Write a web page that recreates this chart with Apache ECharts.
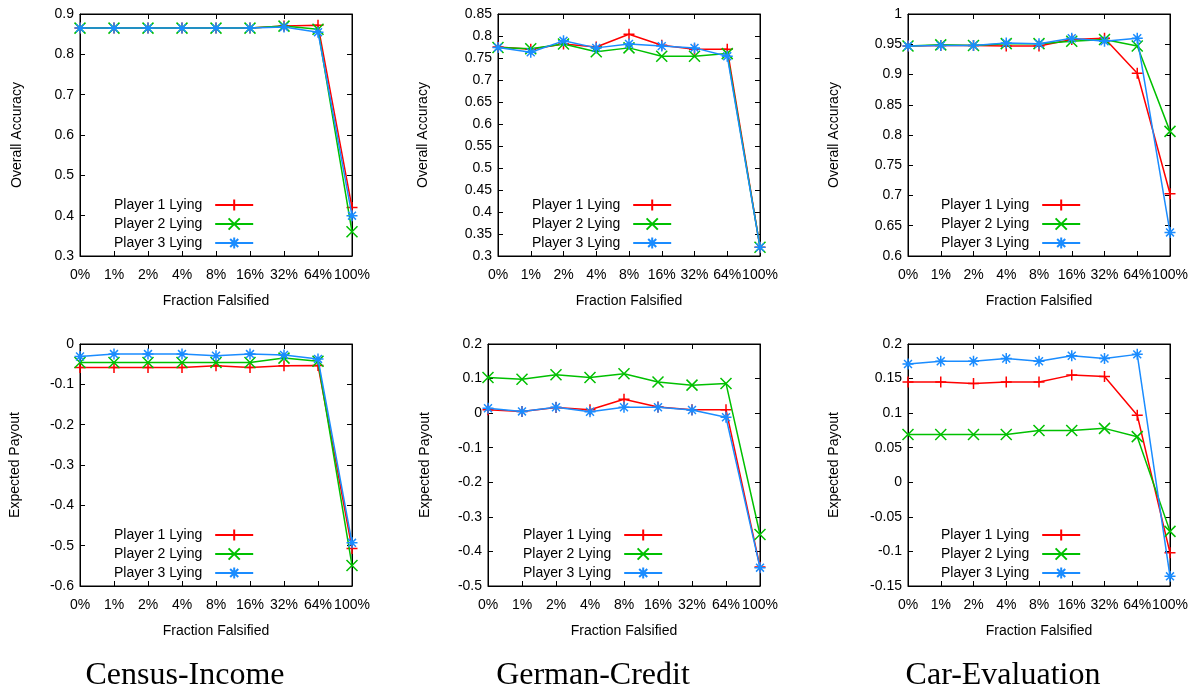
<!DOCTYPE html>
<html>
<head>
<meta charset="utf-8">
<script src="https://cdn.jsdelivr.net/npm/echarts@6/dist/echarts.min.js"></script>
<style>
html,body{margin:0;padding:0;background:#fff;}
#chart{width:1194px;height:692px;}
</style>
</head>
<body>
<div id="chart"></div>
<script>
// ---- data ----
const categories = ['0%','1%','2%','4%','8%','16%','32%','64%','100%'];
const seriesNames = ['Player 1 Lying','Player 2 Lying','Player 3 Lying'];
const datasetTitles = ['Census-Income','German-Credit','Car-Evaluation'];

const censusAccP1 = [0.865,0.865,0.865,0.865,0.865,0.865,0.870,0.872,0.42];
const censusAccP2 = [0.865,0.865,0.865,0.865,0.865,0.865,0.870,0.862,0.36];
const censusAccP3 = [0.865,0.865,0.865,0.865,0.865,0.865,0.868,0.855,0.40];

const germanAccP1 = [0.775,0.770,0.782,0.775,0.804,0.779,0.770,0.770,0.32];
const germanAccP2 = [0.774,0.771,0.782,0.764,0.773,0.754,0.754,0.760,0.32];
const germanAccP3 = [0.774,0.763,0.789,0.773,0.782,0.777,0.773,0.754,0.32];

const carAccP1 = [0.947,0.948,0.948,0.947,0.947,0.958,0.960,0.902,0.703];
const carAccP2 = [0.947,0.949,0.948,0.951,0.951,0.955,0.958,0.947,0.806];
const carAccP3 = [0.947,0.948,0.948,0.952,0.951,0.960,0.955,0.960,0.639];

const censusPayP1 = [-0.058,-0.058,-0.058,-0.058,-0.054,-0.058,-0.054,-0.053,-0.507];
const censusPayP2 = [-0.046,-0.046,-0.046,-0.046,-0.046,-0.046,-0.035,-0.043,-0.549];
const censusPayP3 = [-0.031,-0.025,-0.025,-0.025,-0.029,-0.025,-0.027,-0.037,-0.493];

const germanPayP1 = [0.010,0.005,0.016,0.010,0.040,0.018,0.010,0.010,-0.445];
const germanPayP2 = [0.103,0.098,0.111,0.103,0.114,0.090,0.081,0.086,-0.351];
const germanPayP3 = [0.014,0.005,0.017,0.004,0.017,0.017,0.009,-0.012,-0.447];

const carPayP1 = [0.145,0.145,0.143,0.145,0.145,0.155,0.153,0.097,-0.102];
const carPayP2 = [0.069,0.069,0.069,0.069,0.075,0.075,0.078,0.066,-0.071];
const carPayP3 = [0.171,0.175,0.175,0.179,0.175,0.183,0.179,0.185,-0.136];

const yRanges = [ // [min, max, interval]
  [0.3, 0.9, 0.1], [0.3, 0.85, 0.05], [0.6, 1, 0.05],
  [-0.6, 0, 0.1], [-0.5, 0.2, 0.1], [-0.15, 0.2, 0.05]
];
const yNames = ['Overall Accuracy','Overall Accuracy','Overall Accuracy','Expected Payout','Expected Payout','Expected Payout'];
const panelData = [
  [censusAccP1, censusAccP2, censusAccP3],
  [germanAccP1, germanAccP2, germanAccP3],
  [carAccP1, carAccP2, carAccP3],
  [censusPayP1, censusPayP2, censusPayP3],
  [germanPayP1, germanPayP2, germanPayP3],
  [carPayP1, carPayP2, carPayP3]
];

// ---- style / layout ----
const colors = ['#ff0000', '#00c000', '#1a8cff'];
const symbols = [
  'path://M0,-1L0,1M-1,0L1,0',
  'path://M-1,-1L1,1M-1,1L1,-1',
  'path://M0,-1L0,1M-1,0L1,0M-0.72,-0.72L0.72,0.72M-0.72,0.72L0.72,-0.72'
];
const grids = [
  {left: 80, top: 14, width: 272, height: 242},
  {left: 498, top: 14, width: 262, height: 242},
  {left: 908, top: 14, width: 262, height: 242},
  {left: 80, top: 344, width: 272, height: 242},
  {left: 488, top: 344, width: 272, height: 242},
  {left: 908, top: 344, width: 262, height: 242}
];
const yNameGaps = [56, 68, 67, 58, 56, 67];
const legendPos = [
  {left: 114, top: 198}, {left: 532, top: 198}, {left: 941, top: 198},
  {left: 114, top: 528}, {left: 523, top: 528}, {left: 941, top: 528}
];
const FONT = 'Liberation Sans, Arial, sans-serif';

const option = {
  animation: false,
  backgroundColor: '#fff',
  grid: [], xAxis: [], yAxis: [], series: [], legend: [],
  graphic: []
};

grids.forEach((g, i) => {
  option.grid.push(Object.assign({show: true, borderColor: '#000', borderWidth: 1, containLabel: false}, g));
  const [mn, mx, iv] = yRanges[i];
  // main x axis
  option.xAxis.push({
    type: 'category', gridIndex: i, data: categories, boundaryGap: false,
    name: 'Fraction Falsified', nameLocation: 'middle', nameGap: 38,
    nameTextStyle: {fontFamily: FONT, fontSize: 14, color: '#000'},
    axisLine: {onZero: false, lineStyle: {color: '#000', width: 1}},
    axisTick: {inside: true, length: 5, lineStyle: {color: '#000'}},
    axisLabel: {interval: 0, fontFamily: FONT, fontSize: 14, color: '#000', margin: 12},
    splitLine: {show: false}
  });
  // mirror x axis (top)
  option.xAxis.push({
    type: 'category', gridIndex: i, data: categories, boundaryGap: false, position: 'top',
    axisLine: {onZero: false, lineStyle: {color: '#000', width: 1}},
    axisTick: {inside: true, length: 5, lineStyle: {color: '#000'}},
    axisLabel: {show: false}, splitLine: {show: false}
  });
  option.yAxis.push({
    type: 'value', gridIndex: i, min: mn, max: mx, interval: iv,
    name: yNames[i], nameLocation: 'middle', nameGap: yNameGaps[i], nameRotate: 90,
    nameTextStyle: {fontFamily: FONT, fontSize: 14, color: '#000'},
    axisLine: {show: true, onZero: false, lineStyle: {color: '#000', width: 1}},
    axisTick: {show: true, inside: true, length: 5, lineStyle: {color: '#000'}},
    axisLabel: {fontFamily: FONT, fontSize: 14, color: '#000', margin: 6},
    splitLine: {show: false}
  });
  option.yAxis.push({
    type: 'value', gridIndex: i, min: mn, max: mx, interval: iv, position: 'right',
    axisLine: {show: true, onZero: false, lineStyle: {color: '#000', width: 1}},
    axisTick: {show: true, inside: true, length: 5, lineStyle: {color: '#000'}},
    axisLabel: {show: false}, splitLine: {show: false}
  });
  panelData[i].forEach((vals, k) => {
    option.series.push({
      type: 'line', name: seriesNames[k],
      xAxisIndex: 2 * i, yAxisIndex: 2 * i,
      data: vals,
      symbol: symbols[k], symbolSize: 11,
      lineStyle: {color: colors[k], width: 1.5},
      itemStyle: {color: colors[k], borderColor: colors[k], borderWidth: 1.5},
      emphasis: {disabled: true},
      z: 2 + k
    });
  });
  option.legend.push({
    left: legendPos[i].left, top: legendPos[i].top,
    orient: 'vertical', align: 'right', padding: 0,
    itemWidth: 38, itemHeight: 14, itemGap: 5,
    data: seriesNames,
    selectedMode: false,
    textStyle: {fontFamily: FONT, fontSize: 14, color: '#000', padding: [0, 8, 0, 0]}
  });
});

const titleX = [185, 593, 1003];
datasetTitles.forEach((t, i) => {
  option.graphic.push({
    type: 'text', x: titleX[i], y: 676,
    style: {text: t, fontFamily: 'Liberation Serif, Times New Roman, serif', fontSize: 32,
            fill: '#000', textAlign: 'center', textVerticalAlign: 'middle'}
  });
});

const chart = echarts.init(document.getElementById('chart'), null, {renderer: 'canvas'});
chart.setOption(option);
</script>
</body>
</html>
